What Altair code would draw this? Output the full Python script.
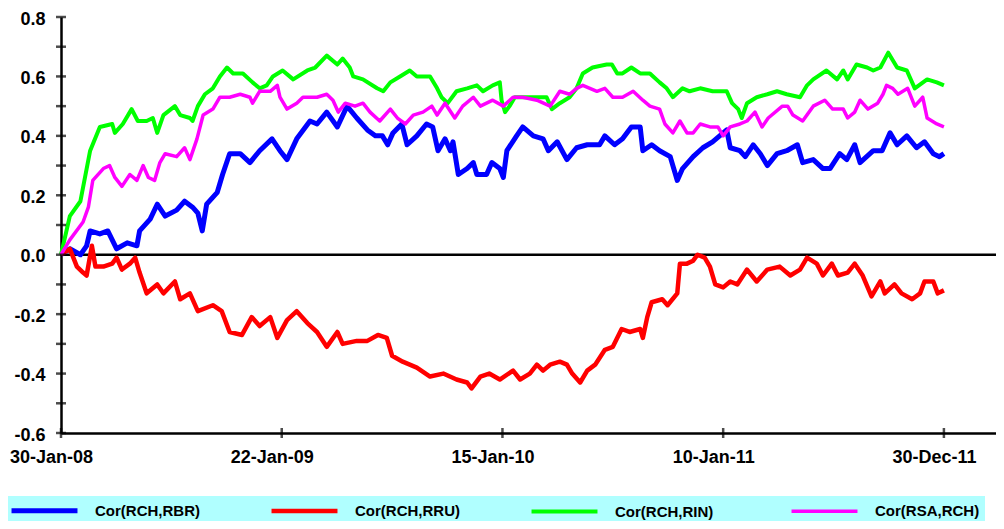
import altair as alt
import pandas as pd

series_names = ["Cor(RCH,RBR)", "Cor(RCH,RRU)", "Cor(RCH,RIN)", "Cor(RSA,RCH)"]
series_colors = ["#0000FF", "#FF0000", "#00FF00", "#FF00FF"]
series_widths = [5, 3.5, 2, 2.5]

# x = trading-day index; axis labels every 250 observations
tick_positions = [0, 250, 500, 750, 1000]
tick_labels = ["30-Jan-08", "22-Jan-09", "15-Jan-10", "10-Jan-11", "30-Dec-11"]
y_label_values = [-0.6, -0.4, -0.2, 0.0, 0.2, 0.4, 0.6, 0.8]
y_tick_values = [-0.6, -0.5, -0.4, -0.3, -0.2, -0.1, 0.0, 0.1, 0.2, 0.3, 0.4, 0.5, 0.6, 0.7, 0.8]

rbr_obs = [0, 10, 22, 29, 33, 44, 53, 63, 75, 86, 89, 101, 109, 118, 131, 140, 149, 155, 160, 165,
           177, 183, 191, 203, 214, 225, 239, 248, 256, 267, 282, 290, 301, 313, 324, 335, 347, 356,
           364, 370, 376, 386, 392, 403, 414, 421, 427, 435, 441, 444, 450, 460, 467, 471, 482, 488,
           497, 501, 505, 516, 523, 535, 546, 552, 562, 573, 584, 596, 610, 616, 627, 636, 646, 656,
           659, 669, 678, 690, 698, 704, 716, 727, 738, 746, 754, 758, 769, 775, 784, 792, 800, 811,
           822, 834, 840, 852, 863, 871, 882, 890, 899, 905, 920, 930, 939, 947, 958, 969, 978, 988,
           995, 1000]
rbr_val = [0.0, 0.02, 0.0, 0.03, 0.08, 0.07, 0.08, 0.02, 0.04, 0.03, 0.08, 0.12, 0.17, 0.13, 0.15,
           0.18, 0.16, 0.14, 0.08, 0.17, 0.21, 0.27, 0.34, 0.34, 0.31, 0.35, 0.39, 0.35, 0.32, 0.39,
           0.45, 0.44, 0.48, 0.43, 0.50, 0.46, 0.42, 0.40, 0.40, 0.37, 0.41, 0.44, 0.37, 0.40, 0.44,
           0.43, 0.35, 0.39, 0.35, 0.38, 0.27, 0.29, 0.31, 0.27, 0.27, 0.31, 0.29, 0.26, 0.35, 0.40,
           0.43, 0.40, 0.39, 0.35, 0.38, 0.32, 0.36, 0.37, 0.37, 0.40, 0.37, 0.39, 0.43, 0.43, 0.35,
           0.37, 0.35, 0.33, 0.25, 0.29, 0.33, 0.36, 0.38, 0.40, 0.42, 0.36, 0.35, 0.33, 0.37, 0.34,
           0.30, 0.34, 0.35, 0.37, 0.31, 0.32, 0.29, 0.29, 0.34, 0.32, 0.37, 0.31, 0.35, 0.35, 0.41,
           0.37, 0.40, 0.36, 0.38, 0.34, 0.33, 0.34]

rru_obs = [0, 10, 18, 25, 29, 35, 39, 48, 58, 63, 69, 78, 84, 89, 97, 109, 116, 129, 135, 146, 155,
           172, 182, 191, 205, 216, 225, 237, 245, 256, 267, 279, 290, 301, 313, 319, 335, 347, 359,
           369, 375, 387, 403, 418, 433, 448, 460, 465, 475, 485, 497, 512, 520, 531, 539, 546, 554,
           565, 573, 579, 588, 596, 605, 616, 625, 635, 644, 656, 659, 664, 669, 681, 687, 698, 701,
           709, 716, 721, 729, 735, 741, 750, 758, 766, 777, 788, 800, 814, 826, 837, 845, 856, 863,
           873, 880, 891, 899, 908, 918, 928, 933, 944, 952, 964, 973, 978, 988, 993, 1000]
rru_val = [0.0, 0.02, -0.04, -0.06, -0.07, 0.03, -0.04, -0.04, -0.03, -0.01, -0.05, -0.03, -0.01,
           -0.06, -0.13, -0.10, -0.13, -0.09, -0.15, -0.13, -0.19, -0.17, -0.19, -0.26, -0.27, -0.21,
           -0.24, -0.21, -0.28, -0.22, -0.19, -0.23, -0.26, -0.31, -0.26, -0.30, -0.29, -0.29, -0.27,
           -0.28, -0.34, -0.36, -0.38, -0.41, -0.40, -0.42, -0.43, -0.45, -0.41, -0.40, -0.42, -0.39,
           -0.42, -0.40, -0.37, -0.39, -0.37, -0.36, -0.37, -0.40, -0.43, -0.39, -0.37, -0.32, -0.31,
           -0.25, -0.26, -0.25, -0.28, -0.21, -0.16, -0.15, -0.17, -0.13, -0.03, -0.03, -0.02, 0.0,
           -0.01, -0.04, -0.10, -0.11, -0.09, -0.10, -0.05, -0.09, -0.05, -0.04, -0.07, -0.05, -0.01,
           -0.03, -0.07, -0.03, -0.07, -0.06, -0.03, -0.07, -0.14, -0.09, -0.13, -0.10, -0.13, -0.15,
           -0.13, -0.09, -0.09, -0.13, -0.12]

rin_obs = [0, 10, 22, 33, 44, 58, 61, 70, 80, 87, 97, 104, 109, 116, 129, 135, 146, 149, 155, 163,
           172, 180, 188, 195, 206, 217, 225, 233, 240, 251, 263, 279, 288, 301, 313, 319, 327, 331,
           342, 358, 365, 373, 384, 395, 403, 418, 426, 431, 438, 448, 460, 471, 478, 489, 497, 499,
           503, 508, 514, 528, 542, 550, 556, 565, 576, 584, 591, 602, 618, 624, 630, 636, 646, 656,
           667, 678, 686, 693, 704, 712, 724, 738, 754, 760, 767, 771, 777, 788, 800, 811, 822, 837,
           845, 852, 867, 879, 886, 891, 901, 913, 920, 928, 937, 947, 958, 967, 981, 992, 1000]
rin_val = [0.0, 0.13, 0.18, 0.35, 0.43, 0.44, 0.41, 0.44, 0.49, 0.45, 0.45, 0.46, 0.41, 0.47, 0.50,
           0.47, 0.46, 0.45, 0.50, 0.54, 0.56, 0.60, 0.63, 0.61, 0.61, 0.58, 0.56, 0.57, 0.60, 0.62,
           0.59, 0.62, 0.63, 0.67, 0.64, 0.66, 0.63, 0.60, 0.59, 0.56, 0.55, 0.58, 0.60, 0.62, 0.60,
           0.60, 0.56, 0.53, 0.51, 0.55, 0.56, 0.57, 0.55, 0.57, 0.58, 0.52, 0.48, 0.50, 0.53, 0.53,
           0.53, 0.53, 0.49, 0.51, 0.53, 0.56, 0.61, 0.63, 0.64, 0.64, 0.61, 0.61, 0.63, 0.61, 0.61,
           0.58, 0.56, 0.53, 0.56, 0.55, 0.56, 0.55, 0.55, 0.51, 0.49, 0.46, 0.51, 0.53, 0.54, 0.55,
           0.54, 0.53, 0.57, 0.59, 0.62, 0.59, 0.62, 0.59, 0.64, 0.63, 0.62, 0.63, 0.68, 0.63, 0.62,
           0.56, 0.59, 0.58, 0.57]

rsa_obs = [0, 10, 25, 31, 36, 48, 55, 61, 69, 78, 86, 93, 99, 106, 112, 118, 131, 140, 146, 154,
           161, 172, 180, 191, 203, 214, 217, 225, 237, 245, 248, 256, 267, 274, 290, 301, 308, 314,
           322, 333, 342, 350, 361, 373, 381, 390, 399, 410, 420, 426, 435, 446, 455, 467, 475, 489,
           501, 512, 523, 539, 554, 565, 576, 584, 591, 607, 616, 625, 636, 648, 659, 667, 678, 684,
           693, 701, 709, 716, 724, 735, 744, 750, 758, 769, 777, 786, 794, 801, 817, 823, 829, 840,
           852, 865, 874, 886, 891, 899, 905, 914, 925, 931, 935, 942, 948, 959, 967, 976, 981, 992,
           1000]
rsa_val = [0.0, 0.05, 0.11, 0.16, 0.25, 0.29, 0.30, 0.26, 0.23, 0.27, 0.25, 0.30, 0.26, 0.25, 0.31,
           0.34, 0.33, 0.36, 0.32, 0.39, 0.47, 0.49, 0.53, 0.53, 0.54, 0.53, 0.51, 0.55, 0.55, 0.57,
           0.53, 0.49, 0.51, 0.53, 0.53, 0.54, 0.52, 0.48, 0.51, 0.50, 0.51, 0.48, 0.45, 0.49, 0.46,
           0.44, 0.47, 0.48, 0.50, 0.47, 0.51, 0.46, 0.50, 0.53, 0.50, 0.52, 0.50, 0.53, 0.53, 0.52,
           0.50, 0.55, 0.54, 0.56, 0.57, 0.55, 0.56, 0.53, 0.53, 0.55, 0.52, 0.50, 0.49, 0.44, 0.41,
           0.45, 0.41, 0.41, 0.44, 0.43, 0.43, 0.40, 0.43, 0.44, 0.45, 0.48, 0.43, 0.46, 0.50, 0.50,
           0.47, 0.45, 0.50, 0.52, 0.49, 0.49, 0.46, 0.48, 0.52, 0.49, 0.51, 0.54, 0.57, 0.56, 0.54,
           0.56, 0.50, 0.53, 0.46, 0.44, 0.43]

frames = []
for name, obs, val in zip(series_names,
                          [rbr_obs, rru_obs, rin_obs, rsa_obs],
                          [rbr_val, rru_val, rin_val, rsa_val]):
    frames.append(pd.DataFrame({"obs": obs, "value": val, "series": name}))
df = pd.concat(frames, ignore_index=True)

FONT = "Liberation Sans"
xscale = alt.Scale(domain=[0, 1059], nice=False, zero=False)
yscale = alt.Scale(domain=[-0.6, 0.8], nice=False, zero=False)

xlabel_expr = "''"
for p, l in reversed(list(zip(tick_positions, tick_labels))):
    xlabel_expr = f"datum.value == {p} ? '{l}' : ({xlabel_expr})"

x_axis = alt.Axis(values=tick_positions, labelExpr=xlabel_expr, grid=False, title=None,
                  ticks=False, domain=True, domainColor="black", domainWidth=2.5,
                  labelFont=FONT, labelFontSize=18, labelFontWeight="bold",
                  labelColor="black", labelPadding=15, labelOffset=-10,
                  labelFlush=False, labelOverlap=False)
y_axis = alt.Axis(values=y_label_values, title=None,
                  labelExpr="replace(format(datum.value, '.1f'), '\u2212', '-')",
                  grid=False, ticks=False, domain=True, domainColor="black",
                  domainWidth=2.5, labelFont=FONT, labelFontSize=18,
                  labelFontWeight="bold", labelColor="black", labelPadding=16,
                  labelOffset=2, labelFlush=False, labelOverlap=False)

legend = alt.Legend(title=None, orient="none", legendX=-56, legendY=479,
                    direction="horizontal", columns=4,
                    symbolType="M-5,0H5", symbolSize=174, symbolOffset=25,
                    labelOffset=41, labelFont=FONT, labelFontSize=15,
                    labelFontWeight="bold", labelColor="black",
                    fillColor="#B0FFFF", padding=5, columnPadding=62,
                    gridAlign="all", labelLimit=300)

zero_line = alt.Chart(pd.DataFrame({"y": [0.0]})).mark_rule(
    color="black", strokeWidth=2.5
).encode(y=alt.Y("y:Q", scale=yscale, axis=y_axis))

lines = alt.Chart(df).mark_line(strokeJoin="round").encode(
    x=alt.X("obs:Q", scale=xscale, axis=x_axis),
    y=alt.Y("value:Q", scale=yscale, axis=y_axis),
    color=alt.Color("series:N", scale=alt.Scale(domain=series_names, range=series_colors),
                    legend=legend),
    strokeWidth=alt.StrokeWidth("series:N",
                                scale=alt.Scale(domain=series_names, range=series_widths),
                                legend=legend),
)

y_ticks = alt.Chart(pd.DataFrame({"v": y_tick_values})).mark_tick(
    orient="horizontal", size=10, thickness=2.5, color="black"
).encode(y=alt.Y("v:Q", scale=yscale, axis=y_axis),
         x=alt.XDatum(0, scale=xscale, axis=x_axis))

x_ticks = alt.Chart(pd.DataFrame({"p": tick_positions})).mark_tick(
    orient="vertical", size=10, thickness=2.5, color="black"
).encode(x=alt.X("p:Q", scale=xscale, axis=x_axis),
         y=alt.YDatum(-0.6, scale=yscale, axis=y_axis))

chart = alt.layer(zero_line, lines, y_ticks, x_ticks).properties(
    width=935, height=416,
    padding={"left": 53, "top": 9, "right": 0, "bottom": 88},
    autosize=alt.AutoSizeParams(type="none"),
    background="white",
).configure_view(stroke=None)

chart.save("out.html", embed_options={"renderer": "svg", "actions": False})
